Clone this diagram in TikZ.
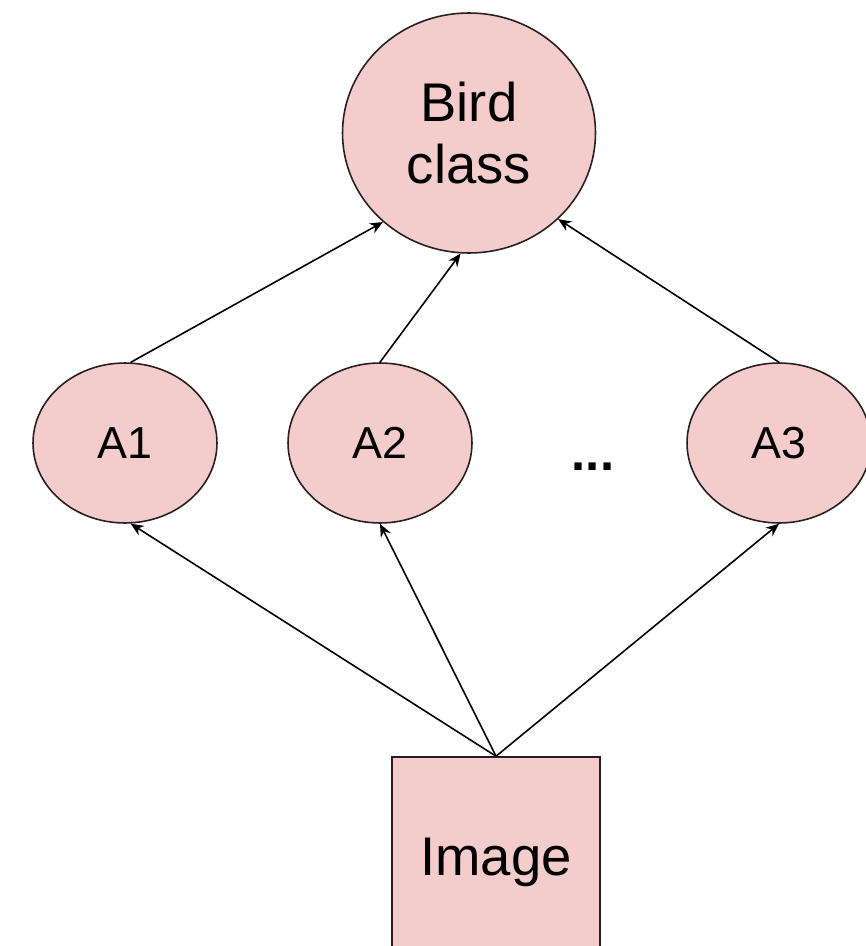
\documentclass[tikz,border=0pt]{standalone}
\usepackage{fontspec}
\setmainfont{Liberation Sans}
\usepackage{xcolor}
\usetikzlibrary{arrows.meta, shapes.geometric}
\definecolor{softpink}{RGB}{244,204,204}
\definecolor{edgegray}{RGB}{40,30,30}

\begin{document}
\begin{tikzpicture}[
  x=0.02cm, y=-0.02cm,
  >={Stealth[length=2.6mm, width=2.2mm]},
  every node/.style={font=\fontsize{25.5}{30}\selectfont},
  attr/.style={ellipse, draw=edgegray, line width=0.9pt, fill=softpink, inner sep=0pt,
               minimum width=3.68cm, minimum height=3.2cm},
  cls/.style={ellipse, draw=edgegray, line width=0.9pt, fill=softpink, inner sep=0pt, align=center,
              minimum width=5.06cm, minimum height=4.8cm, font=\fontsize{31}{35.5}\selectfont},
  img/.style={rectangle, draw=edgegray, line width=0.9pt, fill=softpink,
              minimum width=4.16cm, minimum height=4.2cm, font=\fontsize{31}{35.5}\selectfont},
  link/.style={->, line width=0.9pt, black}
]
\useasboundingbox[fill=white] (0,0) rectangle (865,946);
\node[cls] (bird) at (469,133) {Bird\\class};
\node[attr] (a1) at (125,443) {A1};
\node[attr] (a2) at (380,443) {A2};
\node[attr] (a3) at (779,443) {A3};
\node[font=\bfseries\fontsize{29}{30}\selectfont] (dots) at (593,467) {...};
\node[img] (image) at (496,862) {Image};
\draw[link] (image.north) -- (a1.-86);
\draw[link] (image.north) -- (a2.south);
\draw[link] (image.north) -- (a3.south);
\draw[link] (a1.86) -- (bird.226);
\draw[link] (a2.north) -- (bird.266);
\draw[link] (a3.north) -- (bird.316);
\end{tikzpicture}
\end{document}
